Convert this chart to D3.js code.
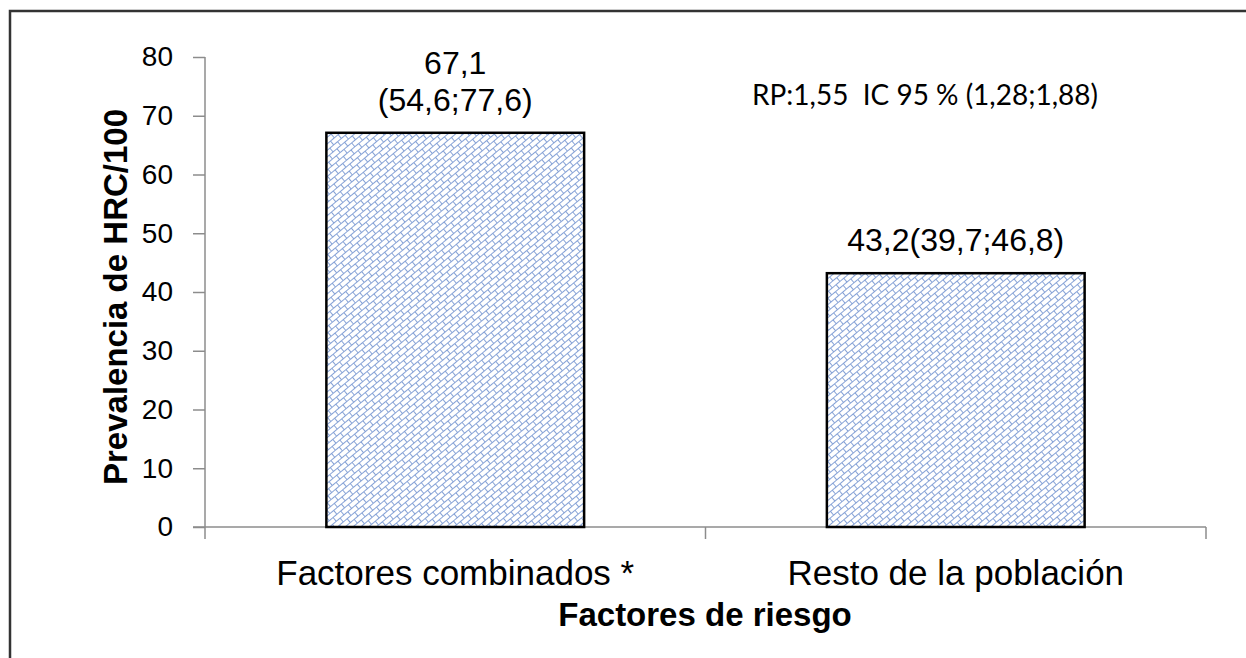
<!DOCTYPE html>
<html><head><meta charset="utf-8">
<script src="https://cdn.jsdelivr.net/npm/d3@7/dist/d3.min.js"></script>
<style>body{margin:0;background:#fff;}svg{display:block;font-family:"Liberation Sans",Arial,sans-serif;}</style>
</head><body>
<svg id="c" width="1246" height="658"></svg>
<script>
const categories = ["Factores combinados *", "Resto de la población"];
const values = [67.1, 43.2];
const barLabels = [["67,1", "(54,6;77,6)"], ["43,2(39,7;46,8)"]];
const yTicks = [0, 10, 20, 30, 40, 50, 60, 70, 80];
const annotation = "RP:1,55  IC 95 % (1,28;1,88)";
const yTitle = "Prevalencia de HRC/100";
const xTitle = "Factores de riesgo";

const svg = d3.select("#c");
// frame
svg.append("path").attr("d","M10,660 L10,11 L1250,11").attr("fill","none").attr("stroke","#333").attr("stroke-width",2.5);

const defs = svg.append("defs");
const blue = "#86a2d6";
const pat = defs.append("pattern").attr("id","brick").attr("patternUnits","userSpaceOnUse")
  .attr("width",10).attr("height",10).attr("patternTransform","rotate(-40)");
pat.append("rect").attr("width",10).attr("height",10).attr("fill","#fff");
pat.append("line").attr("x1",0).attr("y1",0.5).attr("x2",10).attr("y2",0.5).attr("stroke",blue).attr("stroke-width",1);
pat.append("line").attr("x1",0).attr("y1",5.5).attr("x2",10).attr("y2",5.5).attr("stroke",blue).attr("stroke-width",1);
pat.append("line").attr("x1",2.5).attr("y1",0).attr("x2",2.5).attr("y2",5.5).attr("stroke",blue).attr("stroke-width",1);
pat.append("line").attr("x1",7.5).attr("y1",5.5).attr("x2",7.5).attr("y2",10).attr("stroke",blue).attr("stroke-width",1);

const pLeft = 205, pRight = 1206, pTop = 57, pBottom = 527;
const x = d3.scaleBand().domain(categories).range([pLeft, pRight]).paddingInner(0.485).paddingOuter(0.2425);
const y = d3.scaleLinear().domain([0, 80]).range([pBottom, pTop]);

// y axis
const ya = svg.append("g").attr("transform",`translate(${pLeft},0)`)
  .call(d3.axisLeft(y).tickValues(yTicks).tickSize(12).tickPadding(20));
ya.select(".domain").attr("stroke","#8c8c8c").attr("stroke-width",1.5).attr("d",`M0,${pTop}V${pBottom}`);
ya.selectAll(".tick line").attr("stroke","#8c8c8c").attr("stroke-width",1.5);
ya.selectAll(".tick text").attr("font-size",28).attr("fill","#000").attr("font-family","Liberation Sans, Arial, sans-serif");

// x axis
const xa = svg.append("g").attr("transform",`translate(0,${pBottom})`);
xa.append("line").attr("x1",pLeft-12).attr("x2",pRight).attr("y1",0).attr("y2",0).attr("stroke","#8c8c8c").attr("stroke-width",1.5);
const bounds = [pLeft, (x(categories[0])+x.bandwidth()+x(categories[1]))/2, pRight];
xa.selectAll(".xt").data(bounds).join("line").attr("x1",d=>d).attr("x2",d=>d).attr("y1",0).attr("y2",12).attr("stroke","#8c8c8c").attr("stroke-width",1.5);
xa.selectAll(".xl").data(categories).join("text").attr("x",d=>x(d)+x.bandwidth()/2).attr("y",58)
  .attr("text-anchor","middle").attr("font-size",35).attr("fill","#000").text(d=>d);

// bars
svg.selectAll(".bar").data(categories).join("rect")
  .attr("x",d=>x(d)).attr("width",x.bandwidth())
  .attr("y",(d,i)=>y(values[i])).attr("height",(d,i)=>pBottom-y(values[i]))
  .attr("fill","url(#brick)").attr("stroke","#000").attr("stroke-width",2.5);

// bar labels
categories.forEach((c,i)=>{
  const lines = barLabels[i];
  const n = lines.length;
  lines.forEach((t,j)=>{
    svg.append("text").attr("x",x(c)+x.bandwidth()/2).attr("y",y(values[i]) - 22 - (n-1-j)*37)
      .attr("text-anchor","middle").attr("font-size",32).attr("fill","#000").text(t);
  });
});

svg.append("text").attr("x",752).attr("y",105).attr("font-size",29).attr("fill","#000")
  .attr("font-family","Lato, 'Open Sans', sans-serif")
  .attr("textLength",346).attr("lengthAdjust","spacingAndGlyphs")
  .attr("xml:space","preserve").style("white-space","pre").text(annotation);

svg.append("text").attr("transform",`translate(127,297) rotate(-90)`)
  .attr("text-anchor","middle").attr("font-size",33).attr("font-weight","bold").attr("fill","#000").text(yTitle);
svg.append("text").attr("x",705).attr("y",626).attr("text-anchor","middle")
  .attr("font-size",33).attr("font-weight","bold").attr("fill","#000").text(xTitle);
</script>
</body></html>
